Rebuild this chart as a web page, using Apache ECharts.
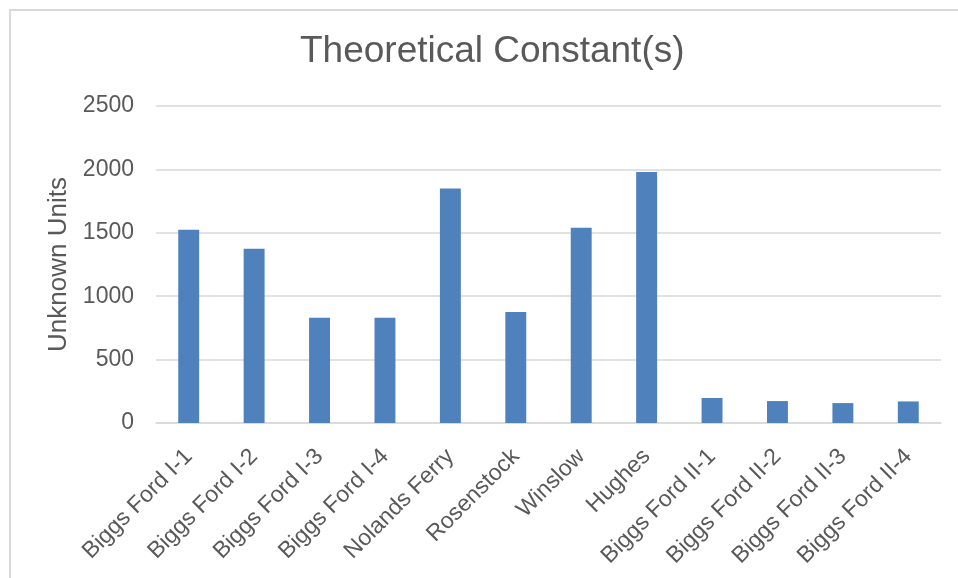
<!DOCTYPE html>
<html>
<head>
<meta charset="utf-8">
<script src="https://cdn.jsdelivr.net/npm/echarts@6/dist/echarts.min.js"></script>
<style>
  html, body { margin: 0; padding: 0; background: #fff; }
  #frame { position: absolute; left: 9px; top: 9px; width: 970px; height: 600px; border: 2px solid #d9d9d9; box-sizing: border-box; }
  #chart { position: absolute; left: 0; top: 0; width: 958px; height: 578px; }
</style>
</head>
<body>
<div id="frame"></div>
<div id="chart"></div>
<script>
const categories = ['Biggs Ford I-1', 'Biggs Ford I-2', 'Biggs Ford I-3', 'Biggs Ford I-4', 'Nolands Ferry', 'Rosenstock', 'Winslow', 'Hughes', 'Biggs Ford II-1', 'Biggs Ford II-2', 'Biggs Ford II-3', 'Biggs Ford II-4'];
const values = [1525, 1375, 830, 830, 1850, 875, 1540, 1980, 197, 173, 157, 170];
const yTicks = [0, 500, 1000, 1500, 2000, 2500];

const chart = echarts.init(document.getElementById('chart'), null, { renderer: 'canvas' });
const font = 'Arial, "Liberation Sans", sans-serif';
chart.setOption({
  animation: false,
  backgroundColor: 'transparent',
  title: {
    text: 'Theoretical Constant(s)',
    left: 295,
    top: 28,
    textStyle: { fontFamily: font, fontSize: 37, fontWeight: 'normal', color: '#595959' }
  },
  grid: { left: 156, right: 17, top: 106, bottom: 155 },
  xAxis: {
    type: 'category',
    data: categories,
    axisLine: { show: true, lineStyle: { color: '#d9d9d9', width: 1.5 } },
    axisTick: { show: false },
    axisLabel: { rotate: 45, interval: 0, margin: 30, fontFamily: font, fontSize: 23, color: '#595959' }
  },
  yAxis: {
    type: 'value',
    min: yTicks[0],
    max: yTicks[yTicks.length - 1],
    interval: 500,
    name: 'Unknown Units',
    nameLocation: 'middle',
    nameGap: 75,
    nameTextStyle: { fontFamily: font, fontSize: 26, color: '#595959' },
    axisLine: { show: false },
    axisTick: { show: false },
    axisLabel: { margin: 22, fontFamily: font, fontSize: 23, color: '#595959', formatter: function (v) { return String(v); } },
    splitLine: { lineStyle: { color: '#d9d9d9', width: 1.5 } }
  },
  series: [{
    type: 'bar',
    data: values,
    barWidth: '32%',
    itemStyle: { color: '#4f81bd' }
  }]
});
</script>
</body>
</html>
